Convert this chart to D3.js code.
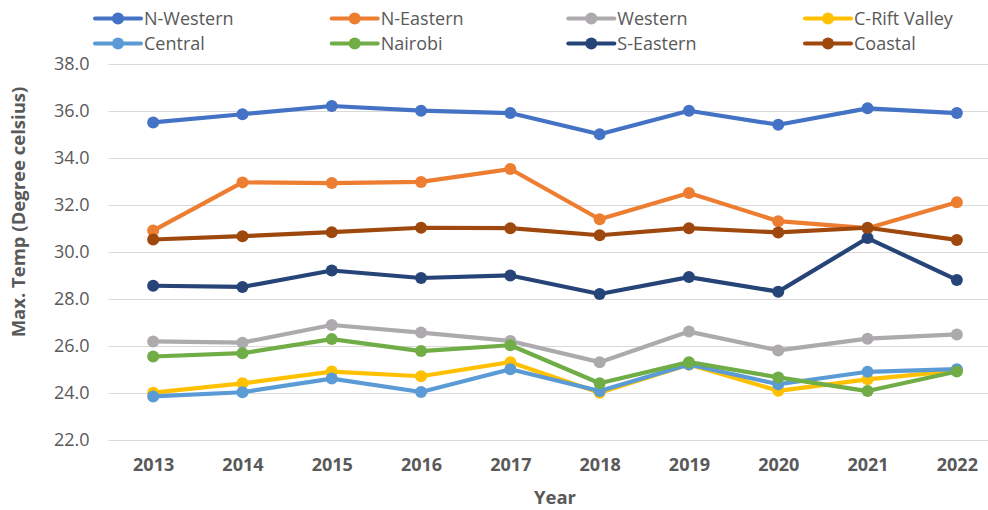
<!DOCTYPE html>
<html>
<head>
<meta charset="utf-8">
<script src="https://cdn.jsdelivr.net/npm/d3@7/dist/d3.min.js"></script>
<style>
  body { margin: 0; background: #fff; }
  svg { display: block; }
  text { font-family: "Open Sans", "DejaVu Sans", sans-serif; }
</style>
</head>
<body>
<svg id="chart" width="988" height="510"></svg>
<script>
const years = ["2013","2014","2015","2016","2017","2018","2019","2020","2021","2022"];
const yTicks = [22, 24, 26, 28, 30, 32, 34, 36, 38];
const seriesNames = ["N-Western","N-Eastern","Western","C-Rift Valley","Central","Nairobi","S-Eastern","Coastal"];
const seriesColors = ["#4472C4","#ED7D31","#ADAAAD","#FFC000","#5B9BD5","#70AD47","#264478","#9E480E"];

const nWestern   = [35.5, 35.85, 36.2, 36.0, 35.9, 35.0, 36.0, 35.4, 36.1, 35.9];
const nEastern   = [30.9, 32.95, 32.92, 32.97, 33.52, 31.38, 32.5, 31.3, 31.0, 32.1];
const western    = [26.18, 26.13, 26.88, 26.56, 26.2, 25.3, 26.6, 25.8, 26.3, 26.48];
const cRiftValley= [24.0, 24.4, 24.9, 24.7, 25.3, 24.0, 25.2, 24.08, 24.57, 24.94];
const central    = [23.84, 24.02, 24.6, 24.03, 25.0, 24.07, 25.2, 24.36, 24.89, 25.0];
const nairobi    = [25.54, 25.68, 26.28, 25.77, 26.02, 24.4, 25.3, 24.65, 24.07, 24.9];
const sEastern   = [28.55, 28.5, 29.2, 28.88, 28.99, 28.2, 28.92, 28.3, 30.58, 28.8];
const coastal    = [30.52, 30.66, 30.83, 31.02, 31.0, 30.7, 31.0, 30.82, 31.02, 30.5];

const seriesValues = [nWestern, nEastern, western, cRiftValley, central, nairobi, sEastern, coastal];

const svg = d3.select("#chart");
const margin = {left: 108.5, right: 1001.5, top: 63.7, bottom: 439.7};

const x = d3.scalePoint().domain(years).range([margin.left, margin.right]).padding(0.5);
const y = d3.scaleLinear().domain([22, 38]).range([margin.bottom, margin.top]);

// gridlines
svg.append("g").selectAll("line").data(yTicks).join("line")
  .attr("x1", margin.left).attr("x2", margin.right)
  .attr("y1", d => Math.round(y(d)) + 0.5).attr("y2", d => Math.round(y(d)) + 0.5)
  .attr("stroke", "#D9D9D9").attr("stroke-width", 1);

// y axis labels
const yAxis = d3.axisLeft(y).tickValues(yTicks).tickFormat(d3.format(".1f")).tickSize(0).tickPadding(0);
const gy = svg.append("g").attr("transform", `translate(${89.5},0)`).call(yAxis);
gy.select(".domain").remove();
gy.selectAll("text").attr("fill", "#595959").style("font-size", "18px").style("font-family", "'Open Sans', sans-serif");

// x axis labels
const xAxis = d3.axisBottom(x).tickSize(0).tickPadding(0);
const gx = svg.append("g").attr("transform", `translate(0,${458.5})`).call(xAxis);
gx.select(".domain").remove();
gx.selectAll("text").attr("fill", "#595959").style("font-size", "18px").style("font-weight", "bold").style("font-family", "'Open Sans', sans-serif");

// axis titles
svg.append("text").attr("x", (margin.left + margin.right) / 2).attr("y", 504)
  .attr("text-anchor", "middle").attr("fill", "#595959")
  .style("font-size", "18.5px").style("font-weight", "bold").text("Year");
svg.append("text").attr("transform", `translate(24.5,${212}) rotate(-90)`)
  .attr("text-anchor", "middle").attr("fill", "#595959")
  .style("font-size", "18.5px").style("font-weight", "bold").text("Max. Temp (Degree celsius)");

// series
const line = d3.line().x((d, i) => x(years[i])).y(d => y(d));
seriesNames.forEach((name, si) => {
  const g = svg.append("g");
  g.append("path").datum(seriesValues[si])
    .attr("d", line).attr("fill", "none")
    .attr("stroke", seriesColors[si]).attr("stroke-width", 4.2)
    .attr("stroke-linejoin", "round").attr("stroke-linecap", "round");
  g.selectAll("circle").data(seriesValues[si]).join("circle")
    .attr("cx", (d, i) => x(years[i])).attr("cy", d => y(d)).attr("r", 6)
    .attr("fill", seriesColors[si]);
});

// legend
const legendColX = [95, 331.7, 568.3, 805];
const legendRowY = [18.5, 43.5];
const leg = svg.append("g");
seriesNames.forEach((name, si) => {
  const col = si % 4, row = Math.floor(si / 4);
  const lx = legendColX[col], ly = legendRowY[row];
  const g = leg.append("g").attr("transform", `translate(${lx},${ly})`);
  g.append("line").attr("x1", 0).attr("x2", 46).attr("y1", 0).attr("y2", 0)
    .attr("stroke", seriesColors[si]).attr("stroke-width", 4).attr("stroke-linecap", "round");
  g.append("circle").attr("cx", 23).attr("cy", 0).attr("r", 6).attr("fill", seriesColors[si]);
  g.append("text").attr("x", 49).attr("y", 0).attr("dy", "0.35em")
    .attr("fill", "#595959").style("font-size", "18px").text(name);
});
</script>
</body>
</html>
